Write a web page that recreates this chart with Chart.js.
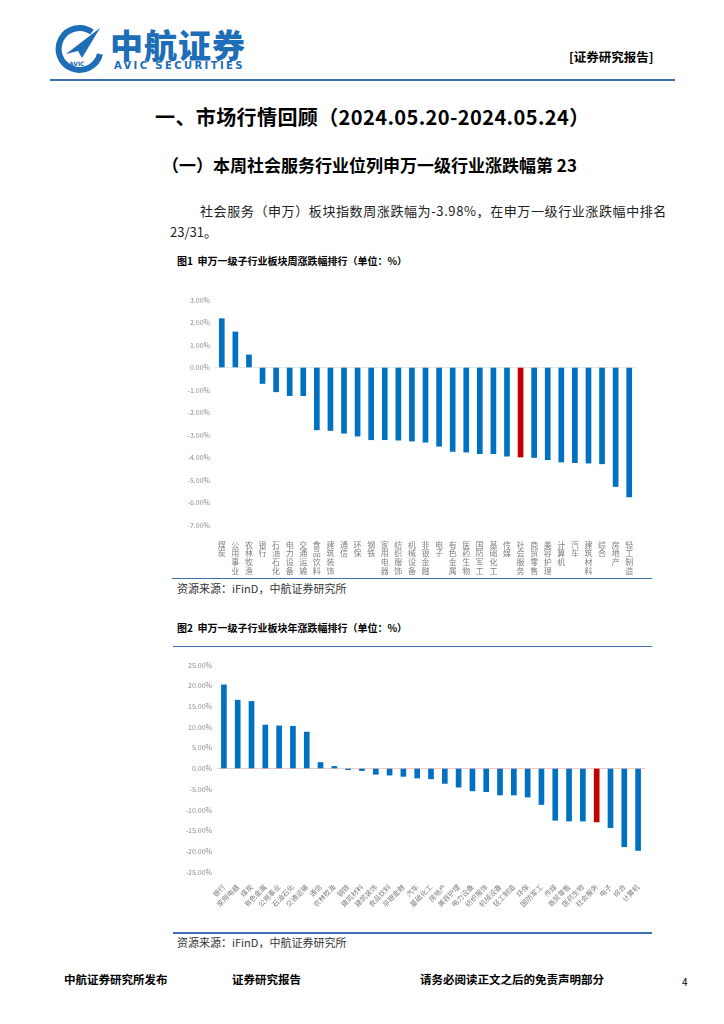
<!DOCTYPE html>
<html>
<head>
<meta charset="utf-8">
<script src="https://cdn.jsdelivr.net/npm/chart.js@4.4.0/dist/chart.umd.min.js"></script>
<style>
  body { margin: 0; width: 724px; height: 1024px; background: #fff; position: relative; font-family: "Noto Sans CJK SC", sans-serif; color: #000; overflow: hidden; }
  .abs { position: absolute; white-space: nowrap; line-height: 1.2; }
  .logo-cn { left: 110px; top: 28px; font-size: 33px; line-height: 1; font-weight: 900; color: #1d6db7; letter-spacing: 1px; }
  .logo-en { left: 114px; top: 61px; line-height: 1; font-family: "DejaVu Sans", sans-serif; font-size: 10px; font-weight: bold; color: #1d6db7; letter-spacing: 2.4px; }
  .tag { left: 569px; top: 49px; font-size: 12.5px; font-weight: bold; }
  .hline { position: absolute; background: #3d6fb5; }
  .h1 { left: 155px; top: 105px; font-size: 20px; font-weight: bold; letter-spacing: 0.4px; }
  .h2 { left: 162px; top: 155px; font-size: 17px; font-weight: bold; }
  .p { font-size: 13px; color: #222; }
  .fig { font-size: 10px; font-weight: bold; }
  .src { font-size: 11px; color: #333; }
  .foot { top: 973px; font-size: 11.5px; font-weight: bold; }
  canvas { position: absolute; }
</style>
</head>
<body>
<svg class="abs" style="left:54px;top:24px" width="50" height="50" viewBox="0 0 50 50">
  <path d="M38 8 A21 21 0 1 0 46 30" fill="none" stroke="#1d6db7" stroke-width="6"/>
  <path d="M12 30 L46 4 L28 34 L24 27 Z" fill="#1d6db7"/>
  <text x="15" y="42" font-size="6" font-family="DejaVu Sans" fill="#1d6db7" font-weight="bold">AVIC</text>
</svg>
<div class="abs logo-cn">中航证券</div>
<div class="abs logo-en">AVIC SECURITIES</div>
<div class="abs tag">[证券研究报告]</div>
<div class="hline" style="left:50px;top:79px;width:625px;height:2px"></div>

<div class="abs h1">一、市场行情回顾（2024.05.20-2024.05.24）</div>
<div class="abs h2">（一）本周社会服务行业位列申万一级行业涨跌幅第 23</div>
<div class="abs p" style="left:200px;top:203px;letter-spacing:0.6px">社会服务（申万）板块指数周涨跌幅为-3.98%，在申万一级行业涨跌幅中排名</div>
<div class="abs p" style="left:170px;top:224px">23/31。</div>

<div class="abs fig" style="left:177px;top:255px">图1&nbsp; 申万一级子行业板块周涨跌幅排行（单位：%）</div>
<canvas id="weekChart" style="left:172px;top:285px;width:480px;height:290px" width="480" height="290"></canvas>
<div class="hline" style="left:172px;top:578px;width:480px;height:1px"></div>
<div class="abs src" style="left:177px;top:582px">资源来源：iFinD，中航证券研究所</div>

<div class="abs fig" style="left:177px;top:622px">图2&nbsp; 申万一级子行业板块年涨跌幅排行（单位：%）</div>
<div class="hline" style="left:173px;top:646px;width:479px;height:1px"></div>
<canvas id="yearChart" style="left:172px;top:650px;width:480px;height:280px" width="480" height="280"></canvas>
<div class="hline" style="left:173px;top:932px;width:479px;height:2px"></div>
<div class="abs src" style="left:177px;top:936px">资源来源：iFinD，中航证券研究所</div>

<div class="abs foot" style="left:64px">中航证券研究所发布</div>
<div class="abs foot" style="left:232px">证券研究报告</div>
<div class="abs foot" style="left:420px">请务必阅读正文之后的免责声明部分</div>
<div class="abs foot" style="left:682px;font-weight:normal;font-size:10px;top:976px">4</div>

<script>
const highlight = '社会服务';

const weekCats = ['煤炭', '公用事业', '农林牧渔', '银行', '石油石化', '电力设备', '交通运输', '食品饮料',
  '建筑装饰', '通信', '环保', '钢铁', '家用电器', '纺织服饰', '机械设备', '非银金融', '电子',
  '有色金属', '医药生物', '国防军工', '基础化工', '传媒', '社会服务', '商贸零售', '美容护理',
  '计算机', '汽车', '建筑材料', '综合', '房地产', '轻工制造'];
const weekVals = [2.17, 1.58, 0.56, -0.71, -1.08, -1.25, -1.25, -2.77,
  -2.80, -2.92, -3.05, -3.21, -3.21, -3.23, -3.27, -3.32, -3.50,
  -3.73, -3.76, -3.83, -3.83, -3.94, -3.98, -4.00, -4.10,
  -4.20, -4.23, -4.25, -4.28, -5.29, -5.75];
const weekTicks = [3, 2, 1, 0, -1, -2, -3, -4, -5, -6, -7];

const yearCats = ['银行', '家用电器', '煤炭', '有色金属', '公用事业', '石油石化', '交通运输', '通信',
  '农林牧渔', '钢铁', '建筑材料', '建筑装饰', '食品饮料', '非银金融', '汽车', '基础化工',
  '房地产', '美容护理', '电力设备', '纺织服饰', '机械设备', '轻工制造', '环保', '国防军工',
  '传媒', '商贸零售', '医药生物', '社会服务', '电子', '综合', '计算机'];
const yearVals = [20.2, 16.5, 16.2, 10.5, 10.3, 10.2, 8.8, 1.45,
  0.5, -0.3, -0.5, -1.4, -1.6, -1.9, -2.3, -2.5,
  -3.6, -4.5, -5.4, -5.6, -6.4, -6.4, -6.9, -8.7,
  -12.5, -12.7, -12.7, -12.9, -14.3, -18.9, -19.8];
const yearTicks = [25, 20, 15, 10, 5, 0, -5, -10, -15, -20, -25];

const tickFont = { family: 'Noto Sans CJK SC', size: 7 };

function makeBarChart(id, cats, vals, ticks, cfg) {
    const ctx = document.getElementById(id).getContext('2d');
    return new Chart(ctx, {
        type: 'bar',
        data: {
            labels: cfg.vertical ? cats.map(c => c.split('')) : cats,
            datasets: [{
                data: vals,
                backgroundColor: cats.map(c => c === highlight ? '#c00000' : '#0070c0'),
                barThickness: 5,
                categoryPercentage: 1,
                barPercentage: 1
            }]
        },
        options: {
            responsive: false,
            animation: false,
            layout: { padding: { top: 15, right: cfg.padRight, bottom: 0, left: 0 } },
            plugins: { legend: { display: false }, tooltip: { enabled: false } },
            scales: {
                x: {
                    grid: { display: false },
                    border: { display: false },
                    ticks: {
                        autoSkip: false,
                        maxRotation: cfg.vertical ? 0 : 45,
                        minRotation: cfg.vertical ? 0 : 45,
                        padding: cfg.vertical ? 7 : 3,
                        color: '#7f7f7f',
                        font: { family: 'Noto Sans CJK SC', size: cfg.vertical ? 8 : 7, lineHeight: 1.12 }
                    },
                    afterFit: (s) => { s.height = cfg.xHeight; }
                },
                y: {
                    min: ticks[ticks.length - 1],
                    max: ticks[0],
                    afterBuildTicks: (s) => { s.ticks = ticks.map(v => ({ value: v })); },
                    grid: {
                        drawTicks: false,
                        color: (c) => c.tick && c.tick.value === 0 ? cfg.zeroColor : 'transparent'
                    },
                    border: { display: false },
                    ticks: {
                        padding: 5,
                        color: '#8c8c8c',
                        font: tickFont,
                        callback: (v) => v.toFixed(2) + '%'
                    },
                    afterFit: (s) => { s.width = cfg.yWidth; }
                }
            }
        }
    });
}

makeBarChart('weekChart', weekCats, weekVals, weekTicks,
    { vertical: true, padRight: 16, xHeight: 50, yWidth: 43, zeroColor: '#e6e6e6' });
makeBarChart('yearChart', yearCats, yearVals, yearTicks,
    { vertical: false, padRight: 7, xHeight: 58, yWidth: 45, zeroColor: '#f2c9c9' });
</script>
</body>
</html>
